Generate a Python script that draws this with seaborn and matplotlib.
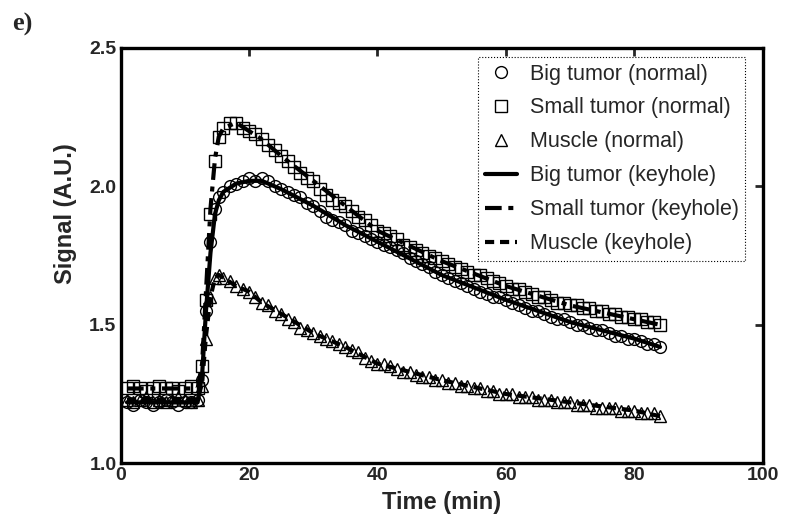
import numpy as np
import pandas as pd
import matplotlib
matplotlib.use("Agg")
import matplotlib.pyplot as plt
import seaborn as sns

# ---------------- data ----------------
time_normal = [1, 2, 3, 4, 5, 6, 7, 8, 9, 10, 11, 12,
               12.7, 13.3, 14, 14.7, 15.3, 16,
               17, 18, 19, 20, 21, 22, 23, 24, 25, 26, 27, 28, 29, 30,
               31, 32, 33, 34, 35, 36, 37, 38, 39, 40,
               41, 42, 43, 44, 45, 46, 47, 48, 49, 50,
               51, 52, 53, 54, 55, 56, 57, 58, 59, 60,
               61, 62, 63, 64, 65, 66, 67, 68, 69, 70,
               71, 72, 73, 74, 75, 76, 77, 78, 79, 80,
               81, 82, 83, 84]

big_normal = [1.22, 1.21, 1.23, 1.22, 1.21, 1.22, 1.23, 1.22, 1.21, 1.22, 1.22, 1.23,
              1.30, 1.55, 1.80, 1.92, 1.96, 1.98,
              2.00, 2.01, 2.02, 2.03, 2.02, 2.03, 2.02, 2.00, 1.99, 1.98, 1.97, 1.96, 1.94, 1.93,
              1.91, 1.89, 1.88, 1.87, 1.86, 1.84, 1.83, 1.82, 1.81, 1.80,
              1.79, 1.78, 1.77, 1.76, 1.74, 1.73, 1.72, 1.71, 1.69, 1.68,
              1.67, 1.66, 1.65, 1.64, 1.63, 1.62, 1.61, 1.60, 1.60, 1.59,
              1.58, 1.57, 1.56, 1.55, 1.55, 1.54, 1.53, 1.52, 1.52, 1.51,
              1.50, 1.50, 1.49, 1.48, 1.48, 1.47, 1.46, 1.46, 1.45, 1.45,
              1.44, 1.43, 1.43, 1.42]

small_normal = [1.27, 1.28, 1.27, 1.26, 1.27, 1.28, 1.27, 1.27, 1.26, 1.27, 1.28, 1.27,
                1.35, 1.59, 1.90, 2.09, 2.18, 2.21,
                2.23, 2.23, 2.21, 2.20, 2.19, 2.17, 2.15, 2.13, 2.11, 2.09, 2.07, 2.05, 2.03, 2.02,
                1.99, 1.97, 1.95, 1.94, 1.93, 1.91, 1.89, 1.88, 1.86, 1.84,
                1.83, 1.82, 1.81, 1.79, 1.78, 1.77, 1.76, 1.75, 1.74, 1.73,
                1.72, 1.71, 1.70, 1.69, 1.68, 1.68, 1.67, 1.66, 1.65, 1.64,
                1.63, 1.63, 1.62, 1.61, 1.60, 1.60, 1.59, 1.58, 1.58, 1.57,
                1.57, 1.56, 1.56, 1.55, 1.55, 1.54, 1.54, 1.53, 1.53, 1.52,
                1.52, 1.51, 1.51, 1.50]

muscle_normal = [1.23, 1.22, 1.23, 1.24, 1.22, 1.23, 1.22, 1.23, 1.24, 1.23, 1.22, 1.23,
                 1.28, 1.45, 1.60, 1.67, 1.68, 1.67,
                 1.66, 1.64, 1.63, 1.62, 1.60, 1.58, 1.57, 1.55, 1.54, 1.52, 1.51, 1.49, 1.48, 1.47,
                 1.46, 1.45, 1.44, 1.43, 1.42, 1.41, 1.40, 1.38, 1.37, 1.36,
                 1.36, 1.35, 1.34, 1.33, 1.33, 1.32, 1.31, 1.31, 1.30, 1.30,
                 1.29, 1.29, 1.28, 1.28, 1.27, 1.27, 1.26, 1.26, 1.25, 1.25,
                 1.25, 1.24, 1.24, 1.24, 1.23, 1.23, 1.23, 1.22, 1.22, 1.22,
                 1.21, 1.21, 1.21, 1.20, 1.20, 1.20, 1.20, 1.19, 1.19, 1.19,
                 1.18, 1.18, 1.18, 1.17]

time_keyhole = [1, 4, 8, 12, 12.7, 13.3, 14, 14.7, 15.3, 16, 18, 20, 22, 25,
                30, 35, 40, 50, 60, 70, 80, 84]
big_keyhole = [1.22, 1.22, 1.22, 1.22, 1.32, 1.55, 1.76, 1.90, 1.95, 1.98, 2.01, 2.02, 2.02, 1.99,
               1.93, 1.86, 1.80, 1.68, 1.59, 1.51, 1.45, 1.42]
small_keyhole = [1.27, 1.27, 1.27, 1.27, 1.36, 1.62, 1.92, 2.10, 2.18, 2.21, 2.23, 2.20, 2.17, 2.11,
                 2.02, 1.93, 1.84, 1.73, 1.64, 1.57, 1.52, 1.50]
muscle_keyhole = [1.23, 1.23, 1.23, 1.23, 1.29, 1.46, 1.60, 1.67, 1.68, 1.67, 1.64, 1.62, 1.58, 1.54,
                  1.47, 1.42, 1.36, 1.30, 1.25, 1.22, 1.19, 1.17]

normal_labels = ["Big tumor (normal)", "Small tumor (normal)", "Muscle (normal)"]
keyhole_labels = ["Big tumor (keyhole)", "Small tumor (keyhole)", "Muscle (keyhole)"]
x_ticks = [0, 20, 40, 60, 80, 100]
y_ticks = [1.0, 1.5, 2.0, 2.5]

# ---------------- plot ----------------
sns.set_style("white")
plt.rcParams["font.family"] = ["Liberation Sans", "DejaVu Sans"]

fig = plt.figure(figsize=(7.88, 5.27), dpi=100)
ax = fig.add_axes([0.153, 0.121, 0.815, 0.788])

markers = ["o", "s", "^"]
for vals, lab, m in zip([big_normal, small_normal, muscle_normal], normal_labels, markers):
    df = pd.DataFrame({"t": time_normal, "v": vals})
    sns.lineplot(data=df, x="t", y="v", ax=ax, label=lab, linestyle="none",
                 marker=m, markersize=8.5, markerfacecolor="none",
                 markeredgecolor="black", markeredgewidth=1.0, color="black",
                 estimator=None, sort=False)

styles = [dict(linestyle="-", linewidth=3.0),
          dict(linestyle=(0, (4, 1.6, 1.2, 1.6)), linewidth=3.0),
          dict(linestyle=(0, (2.2, 1.4)), linewidth=3.0)]
for vals, lab, st in zip([big_keyhole, small_keyhole, muscle_keyhole], keyhole_labels, styles):
    df = pd.DataFrame({"t": time_keyhole, "v": vals})
    sns.lineplot(data=df, x="t", y="v", ax=ax, label=lab, color="black",
                 estimator=None, sort=False, **st)

ax.set_xlim(0, 100)
ax.set_ylim(1.0, 2.5)
ax.set_xticks(x_ticks)
ax.set_yticks(y_ticks)
ax.set_xticklabels([str(v) for v in x_ticks], fontsize=14, fontweight="bold")
ax.set_yticklabels([f"{v:.1f}" for v in y_ticks], fontsize=14, fontweight="bold")
ax.tick_params(direction="in", length=6, width=2, top=True, right=True, pad=3)
for sp in ax.spines.values():
    sp.set_visible(True)
    sp.set_linewidth(2.4)
    sp.set_color("black")

ax.set_xlabel("Time (min)", fontsize=17, fontweight="bold", labelpad=5)
ax.set_ylabel("Signal (A.U.)", fontsize=17, fontweight="bold")
ax.yaxis.set_label_coords(-0.068, 0.6)

leg = ax.legend(loc="upper right", bbox_to_anchor=(0.973, 0.978), fontsize=15.5,
                frameon=True, fancybox=False, handlelength=1.5, handletextpad=0.6,
                borderpad=0.3, labelspacing=0.6, borderaxespad=0)
frame = leg.get_frame()
frame.set_edgecolor("black")
frame.set_linewidth(0.8)
frame.set_linestyle(":")
frame.set_facecolor("white")
frame.set_alpha(1)

fig.text(0.016, 0.975, "e)", fontsize=19, fontweight="bold",
         family=["Liberation Serif", "DejaVu Serif"], va="top")

fig.savefig("out.png", dpi=100)
